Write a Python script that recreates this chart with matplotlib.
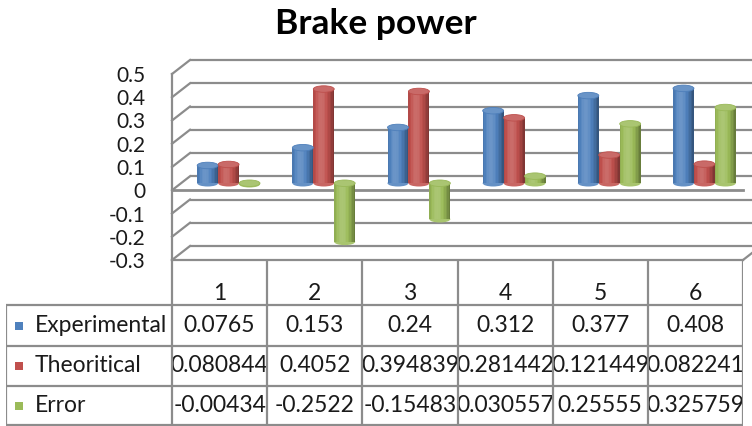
import numpy as np
import matplotlib
matplotlib.use("Agg")
import matplotlib.pyplot as plt
from matplotlib.patches import Rectangle, Ellipse
from matplotlib.colors import to_rgb

# data
categories = ["1", "2", "3", "4", "5", "6"]
series_names = ["Experimental", "Theoritical", "Error"]
experimental = [0.0765, 0.153, 0.24, 0.312, 0.377, 0.408]
theoritical = [0.080844, 0.4052, 0.394839, 0.281442, 0.121449, 0.082241]
error = [-0.00434, -0.2522, -0.15483, 0.030557, 0.25555, 0.325759]
yticks = [-0.3, -0.2, -0.1, 0, 0.1, 0.2, 0.3, 0.4, 0.5]

colors = ["#4F81BD", "#C0504D", "#9BBB59"]
grid_col = "#8C8C8C"
txt_col = "#1a1a1a"
FONT = ["Lato", "DejaVu Sans"]
plt.rcParams["font.family"] = FONT

W, H = 752, 426
fig = plt.figure(figsize=(W / 100, H / 100), dpi=100, facecolor="white")


def px_axes(x0, ytop, w, h):
    a = fig.add_axes([x0 / W, 1 - (ytop + h) / H, w / W, h / H])
    a.set_facecolor("none")
    return a


# geometry (pixels)
FX, FY, FW, FH = 172, 74, 571, 186     # front plane
DX, DY = 18, 14                         # depth offset of back wall
ymin, ymax = -0.3, 0.5
ncat = len(categories)
ppx = FW / ncat                          # pixels per category
ppy = FH / (ymax - ymin)                 # pixels per unit

# back wall
axb = px_axes(FX + DX, FY - DY, FW, FH)
axb.set_xlim(0, ncat)
axb.set_ylim(ymin, ymax)
axb.axis("off")
axb.hlines(yticks, 0, ncat + 0.5, color=grid_col, lw=1.6, clip_on=False)

# front frame
ax = px_axes(FX, FY, FW, FH)
ax.set_xlim(0, ncat)
ax.set_ylim(ymin, ymax)
for s in ["top", "right", "bottom"]:
    ax.spines[s].set_visible(False)
ax.spines["left"].set_color(grid_col)
ax.spines["left"].set_linewidth(1.6)
ax.set_xticks([])
ax.set_yticks(yticks)
ax.set_yticklabels([f"{t:g}" for t in yticks], fontsize=15, color=txt_col)
ax.tick_params(axis="y", length=0, pad=19)
ddx, ddy = DX / ppx, DY / ppy
for t in yticks:
    ax.plot([0, ddx], [t, t + ddy], color=grid_col, lw=1.6, clip_on=False)
ax.plot([0, ncat], [0, 0], color=grid_col, lw=2.0, clip_on=False)
ax.plot([0, ncat], [ymin, ymin], color=grid_col, lw=1.6, clip_on=False)
ax.plot([ncat, ncat + ddx], [ymin, ymin + ddy], color=grid_col, lw=1.6, clip_on=False)

# bars (cylinders) at mid depth
axc = px_axes(FX + DX / 2, FY - DY / 2, FW, FH)
axc.set_xlim(0, ncat)
axc.set_ylim(ymin, ymax)
axc.axis("off")

bw = 0.22
eh = 6.5 / ppy
nstrip = 14


def shade(base, t):
    # cylinder lighting: highlight left of centre, darker edges
    b = np.array(to_rgb(base))
    s = np.cos((t - 0.38) * np.pi / 1.25)
    f = 0.62 + 0.48 * s
    if f > 1:
        c = b + (1 - b) * (f - 1) * 1.6
    else:
        c = b * f
    return tuple(np.clip(c, 0, 1))


def cylinder(a, xc, val, base):
    lo, hi = min(0, val), max(0, val)
    left = xc - bw / 2
    a.add_patch(Ellipse((xc, lo), bw, eh, facecolor=shade(base, 0.5), edgecolor="none", zorder=2))
    sw = bw / nstrip
    for k in range(nstrip):
        t = (k + 0.5) / nstrip
        a.add_patch(Rectangle((left + k * sw, lo), sw * 1.02, hi - lo,
                              facecolor=shade(base, t), edgecolor="none", zorder=3))
    top = np.array(to_rgb(base))
    top = tuple(top + (1 - top) * 0.15)
    a.add_patch(Ellipse((xc, hi), bw, eh, facecolor=top, edgecolor=shade(base, 0.1),
                        lw=0.6, zorder=4))


all_series = [experimental, theoritical, error]
for j, vals in enumerate(all_series):
    for i, v in enumerate(vals):
        cylinder(axc, i + 0.5 + (j - 1) * bw, v, colors[j])

# title
fig.text(376 / W, 1 - 24 / H, "Brake power", ha="center", va="center",
         fontsize=25.5, fontweight="bold", family=FONT, color="black")

# data table
TX = 6
axt = px_axes(TX, FY + FH, FX + FW - TX, H - (FY + FH))
lab_w = (FX - TX) / ppx
axt.set_xlim(-lab_w, ncat)
axt.set_ylim(H - (FY + FH), 0)
axt.axis("off")
row_edges = [45, 86, 126, 165]
axt.vlines(range(ncat + 1), 0, row_edges[-1], color=grid_col, lw=1.6, zorder=5)
axt.vlines([-lab_w], row_edges[0], row_edges[-1], color=grid_col, lw=1.6, zorder=5)
axt.hlines(row_edges, -lab_w, ncat, color=grid_col, lw=1.6, zorder=5)

tfs = 16.5
for i, c in enumerate(categories):
    axt.text(i + 0.5, 33, c, ha="center", va="center", fontsize=tfs, color=txt_col)

key_x = (15 - FX) / ppx
key_w = 8 / ppx
txt_x = (35 - FX) / ppx
for j, (name, vals) in enumerate(zip(series_names, all_series)):
    yc = (row_edges[j] + row_edges[j + 1]) / 2
    axt.add_patch(Rectangle((key_x, yc - 4), key_w, 8, facecolor=colors[j], edgecolor="none"))
    axt.text(txt_x, yc, name, ha="left", va="center", fontsize=tfs, color=txt_col)
    for i, v in enumerate(vals):
        axt.text(i + 0.5, yc, f"{v:g}", ha="center", va="center", fontsize=tfs, color=txt_col)

fig.savefig("out.png", dpi=100, facecolor="white")
